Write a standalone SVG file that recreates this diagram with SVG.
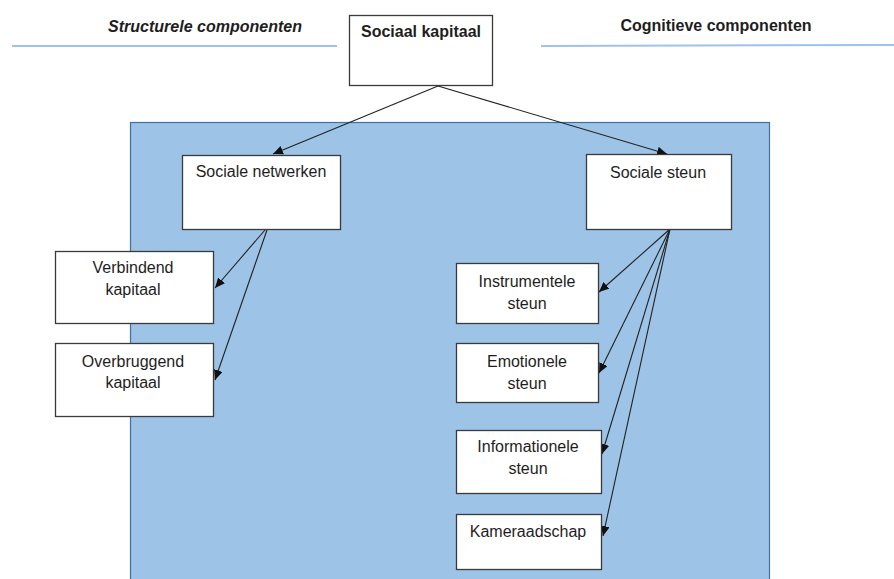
<svg xmlns="http://www.w3.org/2000/svg" width="894" height="579" viewBox="0 0 894 579">
<style>
.box{fill:#fff;stroke:#3a3a3a;stroke-width:1.3}
.t{font-family:"Liberation Sans",Arial,sans-serif;font-size:16px;fill:#1e1e1e;text-anchor:middle}
.b{font-weight:bold}
.conn{stroke:#222;stroke-width:1.1;fill:none;marker-end:url(#ah)}
.hl{stroke:#9DC3E6;stroke-width:2}
</style>
<defs>
<marker id="ah" markerUnits="userSpaceOnUse" markerWidth="11" markerHeight="9" refX="10" refY="4.5" orient="auto">
<path d="M0,0 L10,4.5 L0,9 z" fill="#111"/>
</marker>
</defs>
<rect width="894" height="579" fill="#fff"/>
<g id="background">
<rect x="130.5" y="122.5" width="639" height="470" fill="#9DC3E6" stroke="#41719C" stroke-width="1.2"/>
</g>
<g id="headers">
<line class="hl" x1="12" y1="46" x2="337" y2="46"/>
<line class="hl" x1="541" y1="46" x2="894" y2="45"/>
<text class="t b" x="205" y="32" font-style="italic" font-size="15.5">Structurele componenten</text>
<text class="t b" x="716" y="31">Cognitieve componenten</text>
</g>
<g id="connectors">
<line class="conn" x1="438" y1="86" x2="273" y2="154"/>
<line class="conn" x1="438" y1="86" x2="667" y2="154"/>
<line class="conn" x1="265" y1="230" x2="215" y2="288"/>
<line class="conn" x1="267" y1="230" x2="215" y2="380"/>
<line class="conn" x1="670" y1="229" x2="599" y2="292"/>
<line class="conn" x1="670" y1="229" x2="599" y2="373"/>
<line class="conn" x1="670" y1="229" x2="602" y2="454"/>
<line class="conn" x1="670" y1="229" x2="603" y2="536"/>
</g>
<g id="sociaal-kapitaal">
<rect class="box" x="349.5" y="15.5" width="143" height="70"/>
<text class="t b" x="421" y="37" font-size="15.5">Sociaal kapitaal</text>
</g>
<g id="sociale-netwerken">
<rect class="box" x="182.5" y="155.5" width="158" height="74"/>
<text class="t" x="261" y="177">Sociale netwerken</text>
</g>
<g id="sociale-steun">
<rect class="box" x="586.5" y="154.5" width="145" height="75"/>
<text class="t" x="658" y="178">Sociale steun</text>
</g>
<g id="verbindend-kapitaal">
<rect class="box" x="55.5" y="251.5" width="158" height="72"/>
<text class="t" x="133" y="273">Verbindend</text>
<text class="t" x="133" y="295">kapitaal</text>
</g>
<g id="overbruggend-kapitaal">
<rect class="box" x="55.5" y="343.5" width="158" height="73"/>
<text class="t" x="133" y="367">Overbruggend</text>
<text class="t" x="133" y="388">kapitaal</text>
</g>
<g id="instrumentele-steun">
<rect class="box" x="456.5" y="263.5" width="142" height="60"/>
<text class="t" x="527" y="287">Instrumentele</text>
<text class="t" x="527" y="309">steun</text>
</g>
<g id="emotionele-steun">
<rect class="box" x="456.5" y="343.5" width="142" height="59"/>
<text class="t" x="527" y="367">Emotionele</text>
<text class="t" x="527" y="389">steun</text>
</g>
<g id="informationele-steun">
<rect class="box" x="456.5" y="430.5" width="145" height="63"/>
<text class="t" x="528" y="452">Informationele</text>
<text class="t" x="528" y="474">steun</text>
</g>
<g id="kameraadschap">
<rect class="box" x="456.5" y="514.5" width="145" height="55"/>
<text class="t" x="528" y="537">Kameraadschap</text>
</g>
</svg>
